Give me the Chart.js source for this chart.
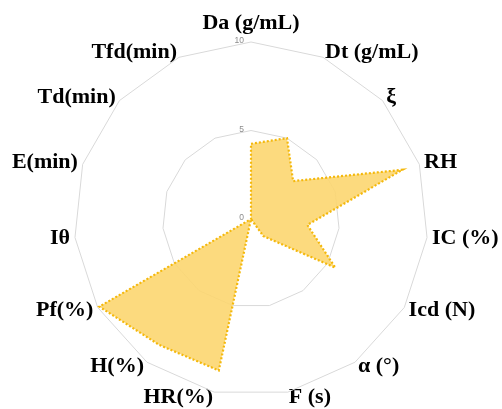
<!DOCTYPE html>
<html>
<head>
<meta charset="utf-8">
<script src="https://cdn.jsdelivr.net/npm/chart.js@4/dist/chart.umd.min.js"></script>
<style>
  html, body { margin: 0; padding: 0; background: #ffffff; }
  #wrap { width: 502px; height: 409px; position: relative; }
</style>
</head>
<body>
<div id="wrap"><canvas id="c"></canvas></div>
<script>
const categories = ['Da (g/mL)', 'Dt (g/mL)', 'ξ', 'RH', 'IC (%)', 'Icd (N)', 'α (°)', 'F (s)', 'HR(%)', 'H(%)', 'Pf(%)', 'Iθ', 'E(min)', 'Td(min)', 'Tfd(min)'];
const seriesValues = [4.25, 5.0, 3.2, 9.0, 3.2, 5.5, 1.2, 0, 8.75, 8.8, 9.9, 0, 0, 0, 0];
const tickValues = [0, 5, 10];

// layout of the radar (centre and outer radius in pixels)
const CENTER_X = 251, CENTER_Y = 219, RADIUS = 177;

const tickLabelPlugin = {
  id: 'tickLabelPlugin',
  afterDraw(chart) {
    const scale = chart.scales.r;
    const ctx = chart.ctx;
    ctx.save();
    ctx.font = '8.5px "Liberation Sans", Arial, sans-serif';
    ctx.fillStyle = '#8c8c8c';
    ctx.textAlign = 'right';
    ctx.textBaseline = 'middle';
    tickValues.forEach(v => {
      const p = scale.getPointPositionForValue(0, v);
      ctx.fillText(String(v), p.x - 7, p.y - 1);
    });
    ctx.restore();
  }
};

new Chart(document.getElementById('c'), {
  type: 'radar',
  data: {
    labels: categories,
    datasets: [{
      data: seriesValues,
      backgroundColor: 'rgba(252, 214, 112, 0.9)',
      borderColor: '#F4B80C',
      borderWidth: 2.2,
      borderDash: [2, 2],
      pointRadius: 0,
      fill: true,
      tension: 0
    }]
  },
  options: {
    responsive: true,
    maintainAspectRatio: false,
    animation: false,
    layout: { padding: 0 },
    plugins: { legend: { display: false }, tooltip: { enabled: false } },
    scales: {
      r: {
        min: 0,
        max: 10,
        afterSetDimensions(scale) {
          scale.xCenter = CENTER_X;
          scale.yCenter = CENTER_Y;
          scale.drawingArea = RADIUS;
        },
        ticks: { stepSize: 5, display: false },
        grid: { color: '#d9d9d9', lineWidth: 1 },
        angleLines: { display: false },
        pointLabels: {
          color: '#000000',
          padding: (ctx) => ctx.index === 0 ? 19 : 5,
          font: { family: '"Liberation Serif", "Times New Roman", serif', size: 22, weight: 'bold', lineHeight: 0 }
        }
      }
    }
  },
  plugins: [tickLabelPlugin]
});
</script>
</body>
</html>
